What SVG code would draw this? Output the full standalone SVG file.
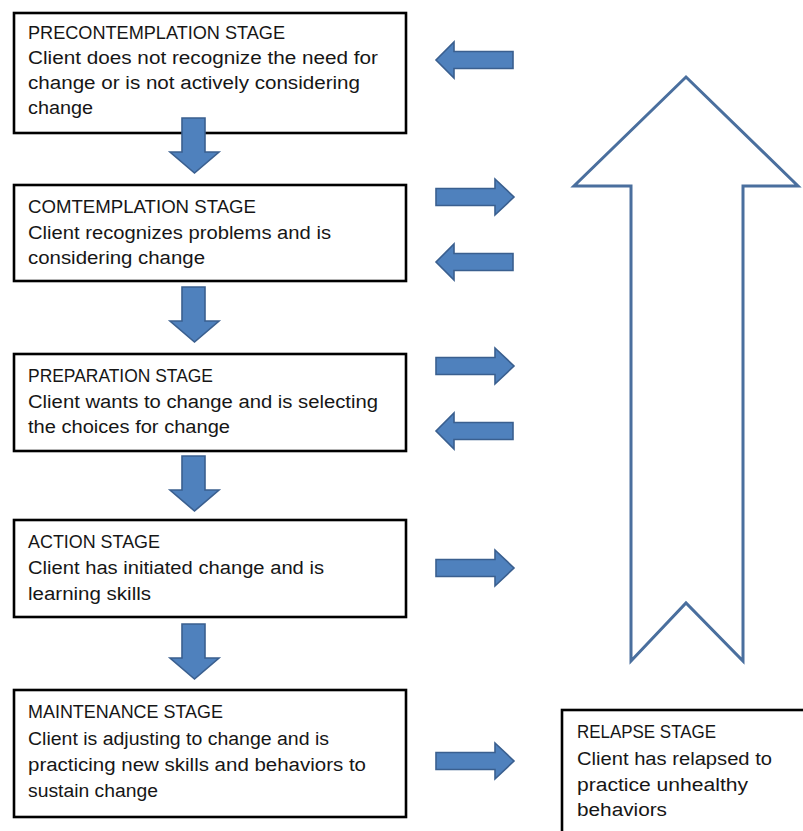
<svg xmlns="http://www.w3.org/2000/svg" width="803" height="831" viewBox="0 0 803 831">
  <style>
    .box { fill: #ffffff; stroke: #000000; stroke-width: 2.6; }
    .t { font-family: "Liberation Sans", Arial, sans-serif; font-size: 18px; fill: #161616; }
    .blk { fill: #4f81bd; stroke: #3a5f8f; stroke-width: 1.6; stroke-linejoin: miter; }
    .big { fill: #ffffff; stroke: #4a6f9e; stroke-width: 3; stroke-linejoin: miter; }
  </style>
  <rect width="803" height="831" fill="#ffffff"/>

  <g id="precontemplation">
    <rect class="box" x="14" y="13" width="392" height="120"/>
    <text class="t" x="28" y="39" textLength="257" lengthAdjust="spacingAndGlyphs">PRECONTEMPLATION STAGE</text>
    <text class="t" x="28" y="64" textLength="350" lengthAdjust="spacingAndGlyphs">Client does not recognize the need for</text>
    <text class="t" x="28" y="89" textLength="332" lengthAdjust="spacingAndGlyphs">change or is not actively considering</text>
    <text class="t" x="28" y="114" textLength="65" lengthAdjust="spacingAndGlyphs">change</text>
  </g>

  <g id="contemplation">
    <rect class="box" x="14" y="185" width="392" height="96"/>
    <text class="t" x="28" y="213" textLength="228" lengthAdjust="spacingAndGlyphs">COMTEMPLATION STAGE</text>
    <text class="t" x="28" y="239" textLength="303" lengthAdjust="spacingAndGlyphs">Client recognizes problems and is</text>
    <text class="t" x="28" y="264" textLength="177" lengthAdjust="spacingAndGlyphs">considering change</text>
  </g>

  <g id="preparation">
    <rect class="box" x="14" y="354" width="392" height="97"/>
    <text class="t" x="28" y="382" textLength="185" lengthAdjust="spacingAndGlyphs">PREPARATION STAGE</text>
    <text class="t" x="28" y="408" textLength="350" lengthAdjust="spacingAndGlyphs">Client wants to change and is selecting</text>
    <text class="t" x="28" y="433" textLength="202" lengthAdjust="spacingAndGlyphs">the choices for change</text>
  </g>

  <g id="action">
    <rect class="box" x="14" y="520" width="392" height="97"/>
    <text class="t" x="28" y="548" textLength="132" lengthAdjust="spacingAndGlyphs">ACTION STAGE</text>
    <text class="t" x="28" y="574" textLength="296" lengthAdjust="spacingAndGlyphs">Client has initiated change and is</text>
    <text class="t" x="28" y="600" textLength="123" lengthAdjust="spacingAndGlyphs">learning skills</text>
  </g>

  <g id="maintenance">
    <rect class="box" x="14" y="690" width="392" height="127"/>
    <text class="t" x="28" y="718" textLength="195" lengthAdjust="spacingAndGlyphs">MAINTENANCE STAGE</text>
    <text class="t" x="28" y="745" textLength="301" lengthAdjust="spacingAndGlyphs">Client is adjusting to change and is</text>
    <text class="t" x="28" y="771" textLength="338" lengthAdjust="spacingAndGlyphs">practicing new skills and behaviors to</text>
    <text class="t" x="28" y="797" textLength="130" lengthAdjust="spacingAndGlyphs">sustain change</text>
  </g>

  <g id="relapse">
    <rect class="box" x="562" y="710" width="260" height="140"/>
    <text class="t" x="577" y="738" textLength="139" lengthAdjust="spacingAndGlyphs">RELAPSE STAGE</text>
    <text class="t" x="577" y="765" textLength="195" lengthAdjust="spacingAndGlyphs">Client has relapsed to</text>
    <text class="t" x="577" y="791" textLength="171" lengthAdjust="spacingAndGlyphs">practice unhealthy</text>
    <text class="t" x="577" y="816" textLength="90" lengthAdjust="spacingAndGlyphs">behaviors</text>
  </g>

  <g id="connectors">
    <!-- downward stage-to-stage arrows -->
    <path class="blk" d="M182,118 H205 V152 H219 L194.5,173 L170,152 H182 Z"/>
    <path class="blk" d="M182,287 H205 V321 H219 L194.5,342 L170,321 H182 Z"/>
    <path class="blk" d="M182,456 H205 V490 H219 L194.5,511 L170,490 H182 Z"/>
    <path class="blk" d="M182,624 H205 V658 H219 L194.5,679 L170,658 H182 Z"/>

    <!-- side arrows toward / away from the cycle -->
    <path class="blk" d="M513,51.5 H454 V42 L436,60 L454,78 V68.5 H513 Z"/>
    <path class="blk" d="M436,188.5 H495 V179 L514,197 L495,215 V205.5 H436 Z"/>
    <path class="blk" d="M513,253.5 H454 V244 L436,262 L454,280 V270.5 H513 Z"/>
    <path class="blk" d="M436,357.5 H495 V348 L514,366 L495,384 V374.5 H436 Z"/>
    <path class="blk" d="M513,422.5 H454 V413 L436,431 L454,449 V439.5 H513 Z"/>
    <path class="blk" d="M436,559.5 H495 V550 L514,568 L495,586 V576.5 H436 Z"/>
    <path class="blk" d="M436,752.5 H495 V743 L514,761 L495,779 V769.5 H436 Z"/>

    <!-- large outlined up arrow -->
    <path class="big" d="M686,77 L798,186 H743 V661 L686,603 L631,661 V186 H574 Z"/>
  </g>
</svg>
